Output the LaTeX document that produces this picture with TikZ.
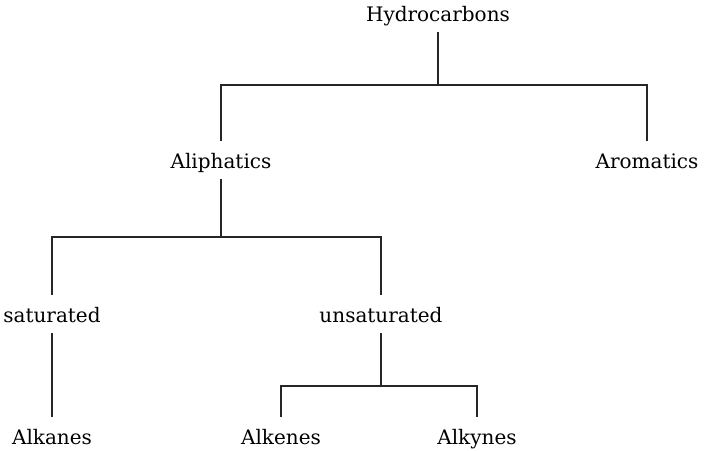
\documentclass[tikz,border=0pt]{standalone}
\usepackage{fontspec}
\setmainfont{DejaVu Serif}
\begin{document}
\begin{tikzpicture}[x=1pt,y=-1pt,
  lbl/.style={anchor=base,font=\fontsize{20}{22}\selectfont,text height=20pt,text depth=4pt,inner xsep=0pt,inner ysep=7pt},
  conn/.style={line width=1.3pt,draw=black!85}]
\useasboundingbox (0,0) rectangle (712,450);
\node[lbl] (hc) at (438,21) {Hydrocarbons};
\node[lbl] (ali) at (221,168) {Aliphatics};
\node[lbl] (aro) at (647,168) {Aromatics};
\node[lbl] (sat) at (52,322) {saturated};
\node[lbl] (uns) at (381,322) {unsaturated};
\node[lbl] (alka) at (52,444) {Alkanes};
\node[lbl] (alke) at (281,444) {Alkenes};
\node[lbl] (alky) at (477,444) {Alkynes};
\coordinate (b1) at (0,85);
\coordinate (b2) at (0,237);
\coordinate (b3) at (0,386);
\draw[conn] (hc.south) -- (hc.south |- b1);
\draw[conn] (ali.north) -- (ali.north |- b1) -| (aro.north);
\draw[conn] (ali.south) -- (ali.south |- b2);
\draw[conn] (sat.north) -- (sat.north |- b2) -| (uns.north);
\draw[conn] (sat.south) -- (alka.north);
\draw[conn] (uns.south) -- (uns.south |- b3);
\draw[conn] (alke.north) -- (alke.north |- b3) -| (alky.north);
\end{tikzpicture}
\end{document}
